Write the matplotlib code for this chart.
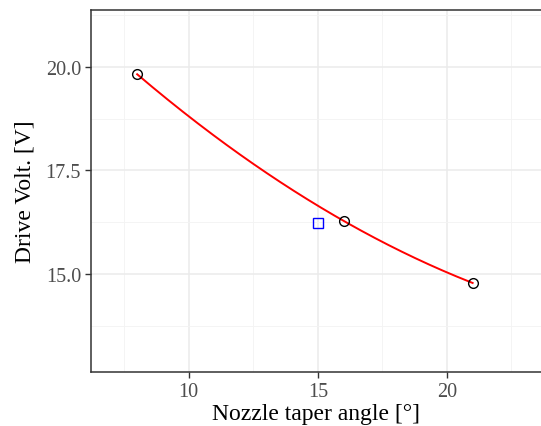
import numpy as np
import matplotlib.pyplot as plt
from matplotlib.ticker import MultipleLocator

# measured points (open circles) and the reference design (blue square)
taper_angle = [8, 16, 21]
drive_volt = [19.82, 16.28, 14.78]
ref_angle = [15]
ref_volt = [16.24]

# quadratic fit through the measured points
coef = np.polyfit(taper_angle, drive_volt, 2)
x_fit = np.linspace(min(taper_angle), max(taper_angle), 200)
y_fit = np.polyval(coef, x_fit)

plt.rcParams['font.family'] = ['Liberation Serif', 'DejaVu Serif']

fig = plt.figure(figsize=(5.41, 4.27), dpi=100)
ax = fig.add_axes([0.1677, 0.1265, 0.8323, 0.8485])

ax.plot(x_fit, y_fit, color='red', linewidth=1.4, zorder=3)
ax.plot(taper_angle, drive_volt, linestyle='none', marker='o', markersize=7,
        markerfacecolor='none', markeredgecolor='black', markeredgewidth=1.0, zorder=4)
ax.plot(ref_angle, ref_volt, linestyle='none', marker='s', markersize=7,
        markerfacecolor='none', markeredgecolor='blue', markeredgewidth=1.0, zorder=4)

ax.set_xlim(6.2, 23.65)
ax.set_ylim(12.63, 21.38)
ax.xaxis.set_major_locator(MultipleLocator(5))
ax.xaxis.set_minor_locator(MultipleLocator(2.5))
ax.yaxis.set_major_locator(MultipleLocator(2.5))
ax.yaxis.set_minor_locator(MultipleLocator(1.25))
ax.yaxis.set_major_formatter(lambda v, p: f'{v:.1f}')

ax.grid(which='major', color='#EBEBEB', linewidth=1.1)
ax.grid(which='minor', color='#F3F3F3', linewidth=0.6)
ax.set_axisbelow(True)

for side in ['left', 'bottom', 'top']:
    ax.spines[side].set_color('#333333')
    ax.spines[side].set_linewidth(1.1)
ax.spines['right'].set_visible(False)

ax.tick_params(which='major', length=4, width=1.0, color='#333333',
               labelsize=14.5, labelcolor='#4D4D4D', pad=3)
ax.tick_params(which='minor', length=0)

ax.set_xlabel('Nozzle taper angle [°]', fontsize=17, labelpad=2)
ax.set_ylabel('Drive Volt. [V]', fontsize=17, labelpad=7)

fig.savefig('out.png', dpi=100)
